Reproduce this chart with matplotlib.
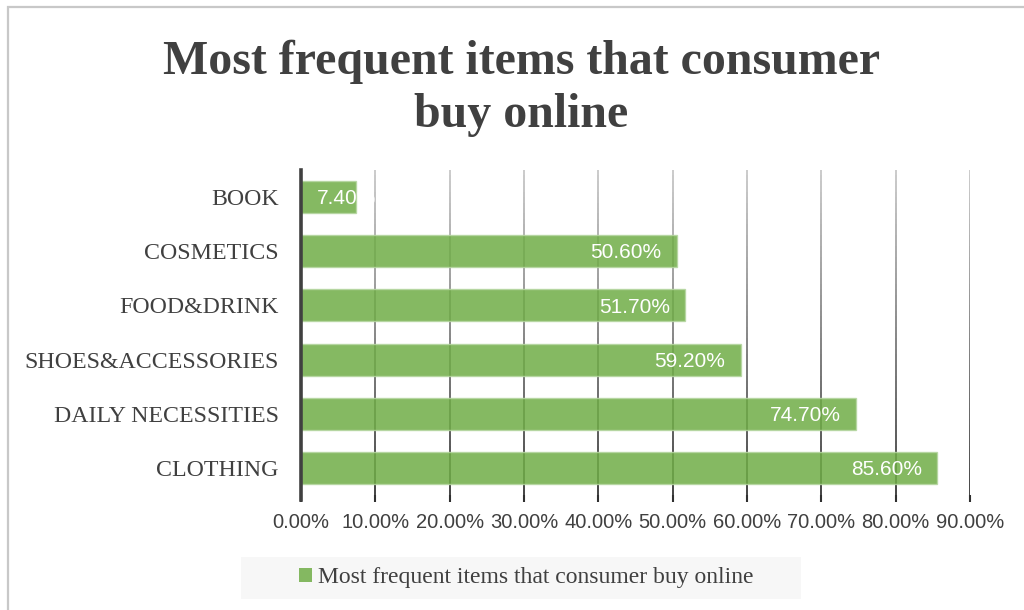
import numpy as np
import matplotlib
matplotlib.use('Agg')
import matplotlib.pyplot as plt
from matplotlib.collections import LineCollection
from matplotlib.patches import Patch, Rectangle

categories = ['BOOK', 'COSMETICS', 'FOOD&DRINK', 'SHOES&ACCESSORIES',
              'DAILY NECESSITIES', 'CLOTHING']
values = [7.4, 50.6, 51.7, 59.2, 74.7, 85.6]
xticks = [0, 10, 20, 30, 40, 50, 60, 70, 80, 90]
xticklabels = ['%.2f%%' % t for t in xticks]
series_name = 'Most frequent items that consumer buy online'
title_lines = ['Most frequent items that consumer', 'buy online']

text_col = '#404040'
bar_col = '#70AD47'

fig = plt.figure(figsize=(10.24, 6.1), dpi=100)
ax = fig.add_axes([301 / 1024, 1 - 495 / 610, 669 / 1024, 325 / 610])

# outer chart border (left and top edge visible)
fig.patches.append(Rectangle((8 / 1024, -0.05), 1.2, 1 - 7 / 610 + 0.05,
                             transform=fig.transFigure, fill=False,
                             edgecolor='#c8c8c8', lw=1.6, zorder=0))

ypos = np.arange(len(categories))
ax.set_xlim(0, 90)
ax.set_ylim(len(categories) - 0.5, -0.5)

# vertical gridlines, light at top fading to dark at the bottom
nseg = 60
ys = np.linspace(-0.5, len(categories) - 0.5, nseg + 1)
segs, cols = [], []
for t in xticks[1:]:
    for i in range(nseg):
        segs.append([(t, ys[i]), (t, ys[i + 1])])
        g = 0.78 - 0.58 * (i / nseg)
        cols.append((g, g, g))
ax.add_collection(LineCollection(segs, colors=cols, linewidths=1.3, zorder=1))

bars = ax.barh(ypos, values, height=0.59, color=bar_col, alpha=0.85,
               edgecolor='#b5d6a0', linewidth=1.0, zorder=2)

for b, v in zip(bars, values):
    lbl = '%.2f%%' % v
    yc = b.get_y() + b.get_height() / 2 + 0.03
    if v < 10:
        t = ax.text(2.2, yc, lbl, ha='left', va='center', color='white',
                    fontsize=15, family='Liberation Sans', zorder=3)
    else:
        t = ax.text(v - 2.1, yc, lbl, ha='right', va='center', color='white',
                    fontsize=15, family='Liberation Sans', zorder=3)
    t.set_clip_path(b)

ax.set_yticks(ypos)
ax.set_yticklabels(categories, family='Liberation Serif', fontsize=17.2,
                   color=text_col)
ax.set_xticks(xticks)
ax.set_xticklabels(xticklabels, family='Liberation Sans',
                   fontsize=14.5, color=text_col)
ax.tick_params(axis='y', length=0, pad=16)
ax.tick_params(axis='x', length=5, width=1.5, color='#303030', pad=8)

for s in ['top', 'right', 'bottom']:
    ax.spines[s].set_visible(False)
ax.spines['left'].set_color('#404040')
ax.spines['left'].set_linewidth(2.6)
ax.spines['left'].set_bounds(len(categories) - 0.5 + 0.1, -0.5)
ax.spines['left'].set_zorder(4)

for line, base in zip(title_lines, [74, 127]):
    fig.text(0.509, 1 - base / 610, line, ha='center', va='baseline',
             family='Liberation Serif', fontweight='bold', fontsize=34.5,
             color=text_col)

# legend with a pale background box
fig.patches.append(Rectangle((241 / 1024, 1 - 599 / 610), 560 / 1024, 42 / 610,
                             transform=fig.transFigure, facecolor='#f7f7f7',
                             edgecolor='none', zorder=0))
leg = fig.legend([Patch(facecolor=bar_col, alpha=0.85)], [series_name],
                 loc='center', bbox_to_anchor=(526 / 1024, 1 - 578 / 610),
                 frameon=False, handlelength=0.55, handleheight=0.55,
                 handletextpad=0.25, prop={'family': 'Liberation Serif', 'size': 17})
for txt in leg.get_texts():
    txt.set_color(text_col)

fig.savefig('out.png', dpi=100)
